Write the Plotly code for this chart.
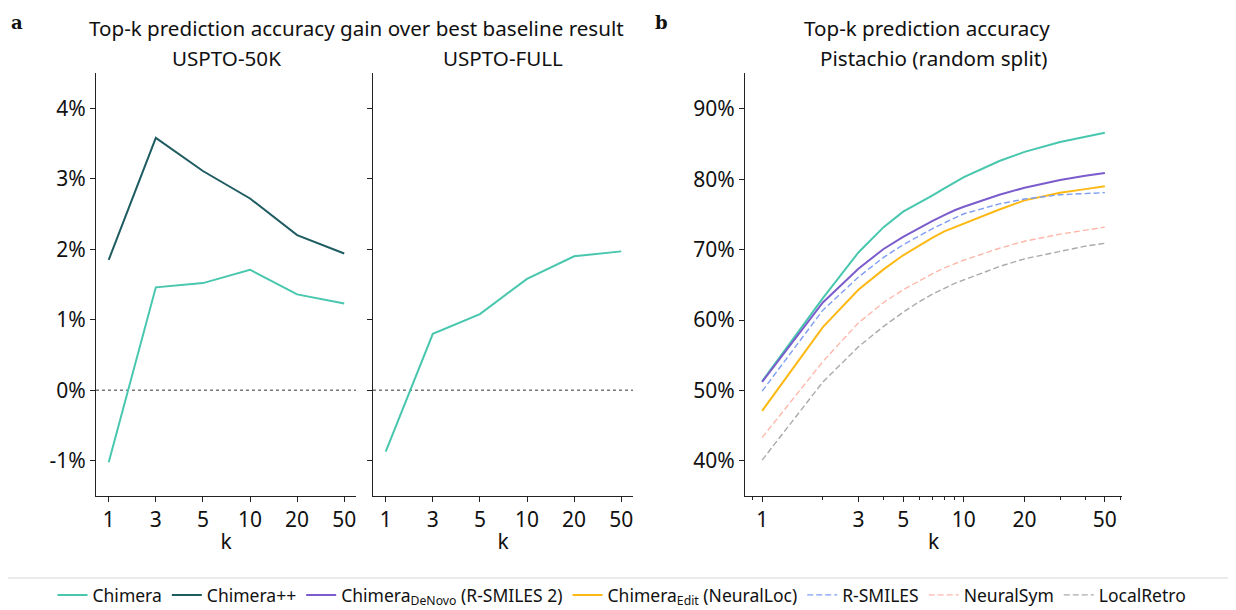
import plotly.graph_objects as go

# page body has an 8px margin: figure is drawn at (8, 8) in the window
W, H = 1228, 602
OFF = 8

# ---------- data ----------
k_labels = ["1", "3", "5", "10", "20", "50"]
gain50k_chimera = [-1.02, 1.46, 1.52, 1.71, 1.36, 1.23]
gain50k_chimerapp = [1.85, 3.58, 3.11, 2.72, 2.20, 1.94]
gainfull_chimera = [-0.87, 0.80, 1.08, 1.58, 1.90, 1.97]

k_pist = [1, 2, 3, 4, 5, 6, 7, 8, 9, 10, 15, 20, 30, 40, 50]
pist_chimera = [51.3, 63.1, 69.6, 73.2, 75.4, 76.6, 77.7, 78.7, 79.5, 80.3, 82.6, 83.9, 85.3, 86.0, 86.6]
pist_denovo = [51.2, 62.5, 67.3, 70.1, 71.8, 73.1, 74.1, 74.9, 75.6, 76.1, 77.8, 78.8, 79.9, 80.5, 80.9]
pist_edit = [47.1, 59.0, 64.3, 67.2, 69.2, 70.6, 71.7, 72.6, 73.2, 73.7, 75.7, 77.0, 78.1, 78.6, 79.0]
pist_rsmiles = [49.9, 61.4, 66.1, 68.9, 70.7, 72.0, 73.0, 73.8, 74.5, 75.1, 76.5, 77.2, 77.8, 78.0, 78.1]
pist_neuralsym = [43.3, 54.1, 59.6, 62.5, 64.3, 65.6, 66.6, 67.4, 68.0, 68.5, 70.2, 71.2, 72.2, 72.8, 73.2]
pist_localretro = [40.1, 51.2, 56.2, 59.1, 61.1, 62.6, 63.7, 64.5, 65.2, 65.7, 67.6, 68.7, 69.8, 70.5, 70.9]

a_yticks = [-1, 0, 1, 2, 3, 4]
a_yticktext = ["-1%", "0%", "1%", "2%", "3%", "4%"]
b_yticks = [40, 50, 60, 70, 80, 90]
b_yticktext = ["40%", "50%", "60%", "70%", "80%", "90%"]
b_xticks = [1, 3, 5, 10, 20, 50]
b_xminor = [0.9, 2, 4, 6, 7, 8, 9, 30, 40, 60]

# ---------- styles ----------
C_TEAL = "#48c7ae"
C_DARK = "#1e5c62"
C_PURPLE = "#7b5ccc"
C_YELLOW = "#fdb913"
C_BLUE = "#7f9ef2"
C_PINK = "#fdb8aa"
C_GRAY = "#aaaaaa"
FONT = "Noto Sans"
TXT = "#111111"
TICK_SIZE = 21
TITLE_SIZE = 20.6


def px_x(p):
    return (p - OFF) / W


def px_y(p):
    return 1 - (p - OFF) / H


fig = go.Figure()

# panel a left
fig.add_trace(go.Scatter(x=k_labels, y=gain50k_chimera, mode="lines", name="Chimera",
                         line=dict(color=C_TEAL, width=2), xaxis="x", yaxis="y",
                         showlegend=False, legendrank=1))
fig.add_trace(go.Scatter(x=k_labels, y=gain50k_chimerapp, mode="lines", name="Chimera++",
                         line=dict(color=C_DARK, width=2), xaxis="x", yaxis="y",
                         showlegend=True, legendrank=2))
# panel a right
fig.add_trace(go.Scatter(x=k_labels, y=gainfull_chimera, mode="lines", name="Chimera",
                         line=dict(color=C_TEAL, width=2), xaxis="x2", yaxis="y2",
                         showlegend=False))
# panel b
series_b = [
    ("Chimera", pist_chimera, C_TEAL, "solid", 2, 1),
    ("Chimera<sub>DeNovo</sub> (R-SMILES 2)", pist_denovo, C_PURPLE, "solid", 2, 3),
    ("Chimera<sub>Edit</sub> (NeuralLoc)", pist_edit, C_YELLOW, "solid", 2, 4),
    ("R-SMILES", pist_rsmiles, C_BLUE, "6px,3px", 1.4, 5),
    ("NeuralSym", pist_neuralsym, C_PINK, "6px,3px", 1.4, 6),
    ("LocalRetro", pist_localretro, C_GRAY, "6px,3px", 1.4, 7),
]
for name, vals, col, dash, lw, rank in series_b:
    fig.add_trace(go.Scatter(x=k_pist, y=vals, mode="lines", name=name,
                             line=dict(color=col, width=lw, dash=dash),
                             xaxis="x3", yaxis="y3", legendrank=rank))

y_dom = [px_y(496), px_y(73)]
axis_common = dict(showline=True, linecolor="#222222", linewidth=1.2, ticks="outside",
                   ticklen=5, tickcolor="#222222", showgrid=False, zeroline=False,
                   tickfont=dict(family=FONT, size=TICK_SIZE, color=TXT), automargin=False)
k_title = dict(text="k", font=dict(family=FONT, size=TICK_SIZE, color=TXT), standoff=2)

fig.update_layout(
    width=W, height=H,
    margin=dict(l=0, r=0, t=0, b=0, autoexpand=False),
    paper_bgcolor="white", plot_bgcolor="white",
    font=dict(family=FONT, color=TXT),
    xaxis=dict(domain=[px_x(96), px_x(356)], type="category", range=[-0.27, 5.25],
               anchor="y", title=k_title, **axis_common),
    yaxis=dict(domain=y_dom, range=[-1.5, 4.5], tickvals=a_yticks, ticktext=a_yticktext,
               anchor="x", **axis_common),
    xaxis2=dict(domain=[px_x(373), px_x(633)], type="category", range=[-0.27, 5.25],
                anchor="y2", title=k_title, **axis_common),
    yaxis2=dict(domain=y_dom, range=[-1.5, 4.5], tickvals=a_yticks, ticktext=a_yticktext,
                showticklabels=False, anchor="x2", **axis_common),
    xaxis3=dict(domain=[px_x(745), px_x(1122)], type="log", range=[-0.085, 1.784],
                tickmode="array", tickvals=b_xticks, ticktext=[str(v) for v in b_xticks],
                minor=dict(tickmode="array", tickvals=b_xminor, ticks="outside", ticklen=3,
                           tickcolor="#222222", showgrid=False),
                anchor="y3", title=k_title, **axis_common),
    yaxis3=dict(domain=y_dom, range=[35.0, 95.1], tickvals=b_yticks, ticktext=b_yticktext,
                anchor="x3", **axis_common),
    legend=dict(orientation="h", x=0.5, xanchor="center", y=px_y(595), yanchor="middle",
                font=dict(family=FONT, size=17.5, color=TXT), bgcolor="rgba(255,255,255,0)",
                itemwidth=30, tracegroupgap=0),
    showlegend=True,
)

# zero reference lines
for xr, yr in [("x domain", "y"), ("x2 domain", "y2")]:
    fig.add_shape(type="line", xref=xr, yref=yr, x0=0, x1=1, y0=0, y1=0,
                  line=dict(color="#777777", width=1.6, dash="dot"), layer="below")

# legend frame top edge
fig.add_shape(type="line", xref="paper", yref="paper", x0=0, x1=1, y0=px_y(578), y1=px_y(578),
              line=dict(color="#d6d6d6", width=1))

ann = [
    ("Top-k prediction accuracy gain over best baseline result", 356, 28),
    ("USPTO-50K", 226, 58),
    ("USPTO-FULL", 503, 58),
    ("Top-k prediction accuracy", 927, 28),
    ("Pistachio (random split)", 933, 58),
]
for text, x, y in ann:
    fig.add_annotation(text=text, x=px_x(x), y=px_y(y), xref="paper", yref="paper",
                       showarrow=False, xanchor="center", yanchor="middle",
                       font=dict(family=FONT, size=TITLE_SIZE, color=TXT))
for text, x, y in [("a", 17, 22), ("b", 661, 22)]:
    fig.add_annotation(text="<b>%s</b>" % text, x=px_x(x), y=px_y(y), xref="paper", yref="paper",
                       showarrow=False, xanchor="center", yanchor="middle",
                       font=dict(family="DejaVu Serif", size=18, color=TXT))

fig.write_html("out.html")
